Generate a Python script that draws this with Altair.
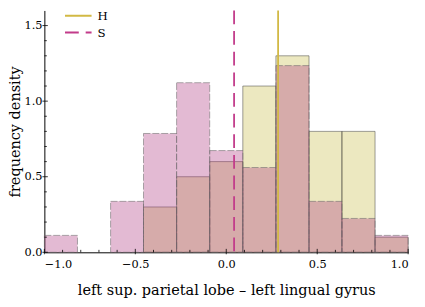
import altair as alt
import pandas as pd

FONT = "DejaVu Serif"

bin_left = [-1.0, -0.818, -0.636, -0.455, -0.273, -0.091, 0.091, 0.273, 0.455, 0.636, 0.818]
bin_right = [-0.818, -0.636, -0.455, -0.273, -0.091, 0.091, 0.273, 0.455, 0.636, 0.818, 1.0]
h_density = [0, 0, 0, 0.30, 0.50, 0.60, 1.10, 1.30, 0.80, 0.80, 0.10]
s_density = [0.112, 0, 0.337, 0.786, 1.122, 0.673, 0.561, 1.235, 0.337, 0.224, 0.112]
groups = ["H", "S"]
group_means = [0.285, 0.043]
x_major = [-1.0, -0.5, 0.0, 0.5, 1.0]
x_minor = [-0.9, -0.8, -0.7, -0.6, -0.4, -0.3, -0.2, -0.1, 0.1, 0.2, 0.3, 0.4, 0.6, 0.7, 0.8, 0.9]
y_major = [0.0, 0.5, 1.0, 1.5]
y_minor = [0.1, 0.2, 0.3, 0.4, 0.6, 0.7, 0.8, 0.9, 1.1, 1.2, 1.3, 1.4]

rows = []
for g, dens in zip(groups, [h_density, s_density]):
    for a, b, d in zip(bin_left, bin_right, dens):
        if d > 0:
            rows.append({"group": g, "x0": a, "x1": b, "density": d})
bars = pd.DataFrame(rows)
means = pd.DataFrame({"group": groups, "mean": group_means})

W, H = 370, 246
XT = "left sup. parietal lobe – left lingual gyrus"
YT = "frequency density"
xscale = alt.Scale(domain=[-1, 1], nice=False, zero=False)
yscale = alt.Scale(domain=[0, 1.6], nice=False, zero=False)

xaxis = alt.Axis(values=x_major, format=".1f", tickSize=0, grid=False, labelPadding=6,
                 titleX=W / 2, titleY=43, titleBaseline="alphabetic")
yaxis = alt.Axis(values=y_major, format=".1f", tickSize=0, grid=False, labelPadding=2.5,
                 titleX=-25.5, titleY=H / 2, titleAngle=270, titleBaseline="alphabetic")

h_bars = alt.Chart(bars).transform_filter(alt.datum.group == "H").mark_rect(
    fill="#c9bd4b", fillOpacity=0.35, stroke="#3a3a3a", strokeWidth=0.7, strokeOpacity=0.7
).encode(
    x=alt.X("x0:Q", scale=xscale, axis=xaxis, title=XT),
    x2="x1:Q",
    y=alt.Y("density:Q", scale=yscale, axis=yaxis, title=YT),
    y2=alt.datum(0),
)

s_bars = alt.Chart(bars).transform_filter(alt.datum.group == "S").mark_rect(
    fill="#af3a81", fillOpacity=0.35, stroke="#6a6a6a", strokeWidth=0.8, strokeOpacity=0.7,
    strokeDash=[7, 2],
).encode(
    x=alt.X("x0:Q", scale=xscale, axis=xaxis, title=XT),
    x2="x1:Q",
    y=alt.Y("density:Q", scale=yscale, axis=yaxis, title=YT),
    y2=alt.datum(0),
)

leg = alt.Legend(
    orient="none", legendX=20, legendY=-2, title=None, symbolType="stroke",
    symbolSize=729, symbolStrokeWidth=2, labelFont=FONT, labelFontSize=12,
    labelColor="black", labelOffset=5, clipHeight=15, rowPadding=2, padding=0,
)
mean_rules = alt.Chart(means).mark_rule(strokeWidth=1.8).encode(
    x=alt.X("mean:Q", scale=xscale, axis=xaxis, title=XT),
    color=alt.Color("group:N", scale=alt.Scale(domain=groups, range=["#d2b944", "#c23b8a"]), legend=leg),
    strokeDash=alt.StrokeDash("group:N", scale=alt.Scale(domain=groups, range=[[1, 0], [14, 7]]), legend=leg),
)

def xticks(vals, inner, outer):
    return alt.Chart(pd.DataFrame({"v": vals})).mark_rule(color="black", strokeWidth=0.8).encode(
        x=alt.X("v:Q", scale=xscale, axis=xaxis, title=XT),
        y=alt.value(H + outer), y2=alt.value(H - inner),
    )

def yticks(vals, inner, outer):
    return alt.Chart(pd.DataFrame({"v": vals})).mark_rule(color="black", strokeWidth=0.8).encode(
        y=alt.Y("v:Q", scale=yscale, axis=yaxis, title=YT),
        x=alt.value(-outer), x2=alt.value(inner),
    )

chart = alt.layer(
    h_bars, s_bars, mean_rules,
    xticks(x_major, 3.5, 2), xticks(x_minor, 2.5, 0),
    yticks(y_major, 3.5, 2), yticks(y_minor, 2.5, 0),
).properties(
    width=W, height=H,
    padding={"left": 37, "top": 0, "right": 9, "bottom": 45},
    autosize=alt.AutoSizeParams(type="none"),
    background="white",
).configure_view(stroke=None).configure_axis(
    labelFont=FONT, titleFont=FONT, labelFontSize=11.5, titleFontSize=14.7,
    titleFontWeight="normal", labelColor="black", titleColor="black",
    domainColor="black", domainWidth=1,
)

chart.save("out.html", embed_options={"renderer": "svg", "actions": False})
